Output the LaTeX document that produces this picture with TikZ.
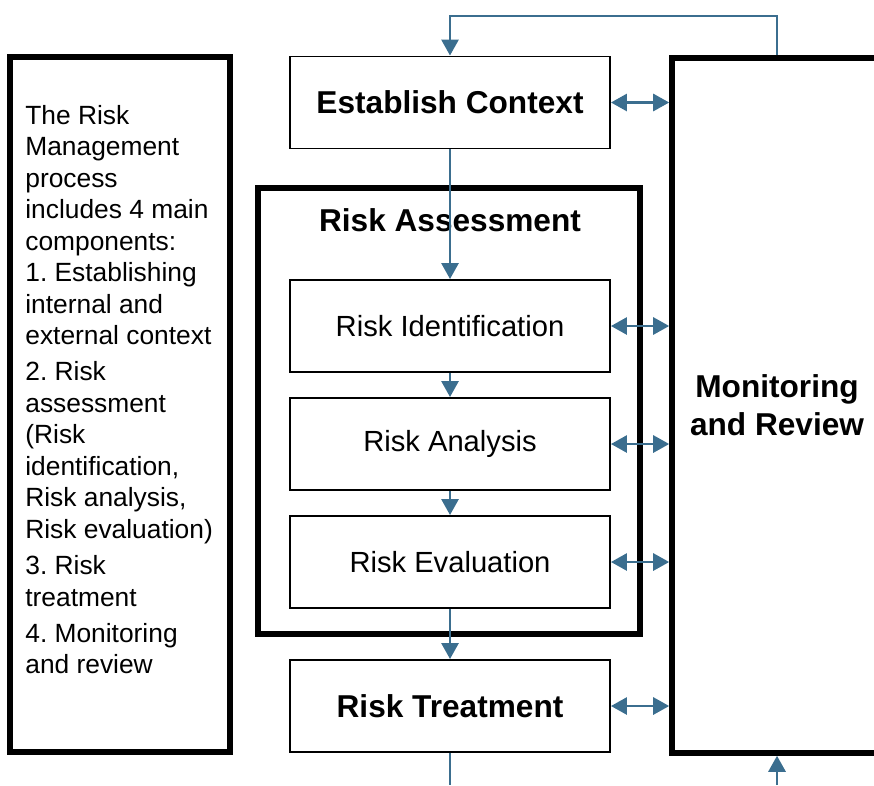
\documentclass[tikz,border=0pt]{standalone}
\usepackage{fontspec}
\setmainfont{Liberation Sans}
\usetikzlibrary{arrows.meta, positioning}

\definecolor{flowblue}{RGB}{59,110,143}

\tikzset{
	stage/.style = {draw, line width = 1.1pt, fill = white, inner sep = 0pt,
		minimum width = 6.4cm, minimum height = 1.84cm,
		font = \fontsize{16.6}{20}\selectfont},
	keystage/.style = {stage, font = \fontsize{18}{21.6}\selectfont\bfseries},
	frame/.style = {draw, line width = 3.2pt, inner sep = 0pt},
	flow/.style = {flowblue, line width = 1.6pt, ->},
	link/.style = {flowblue, line width = 1.6pt, <->},
}

\begin{document}
\frenchspacing
\begin{tikzpicture}[x = 0.02cm, y = -0.02cm, > = {Triangle[length = 0.32cm, width = 0.34cm]}]

	\useasboundingbox (0, 0) rectangle (874, 785);
	\clip (0, 0) rectangle (874, 785);

	% frames
	\node [frame, minimum width = 4.4cm, minimum height = 13.9cm] (notes) at (120, 404.5) {};
	\node [frame, minimum width = 7.64cm, minimum height = 8.92cm] (assess) at (449, 411) {};
	\node [frame, minimum width = 4.2cm, minimum height = 13.9cm, align = center,
		font = \fontsize{18}{21.6}\selectfont\bfseries] (mon) at (777, 405.5) {Monitoring\\and Review};

	\node [anchor = north west, inner sep = 0pt, align = left,
		font = \fontsize{15}{17.9}\selectfont] (summary) at (25, 105)
		{The Risk\\Management\\process\\includes 4 main\\components:\\1. Establishing\\internal and\\external context\\[2.8pt]
		2. Risk\\assessment\\(Risk\\identification,\\Risk analysis,\\Risk evaluation)\\[2.8pt]
		3. Risk\\treatment\\[2.8pt]
		4. Monitoring\\and review};

	\node [font = \fontsize{18}{21.6}\selectfont\bfseries] (title) at (450, 220) {Risk Assessment};

	% process steps
	\node [keystage] (ctx) at (450, 102.5) {Establish Context};
	\node [stage] (ident) at (450, 326) {Risk Identification};
	\node [stage] (anal) at (450, 444) {Risk Analysis};
	\node [stage] (eval) at (450, 562) {Risk Evaluation};
	\node [keystage] (treat) at (450, 706) {Risk Treatment};

	\coordinate (bend) at (450, 16);
	\coordinate (outlet) at (450, 785);
	\coordinate (inlet) at (777, 785);

	% connectors
	\draw [flow] (ctx) -- (ident);
	\draw [flow] (ident) -- (anal);
	\draw [flow] (anal) -- (eval);
	\draw [flow] (eval) -- (treat);
	\draw [flow, -] (treat) -- (outlet);
	\draw [flow] (inlet) -- (mon.south);
	\draw [flow] (mon.north) |- (bend) -- (ctx);

	\foreach \s in {ctx, ident, anal, eval, treat}
		\draw [link] (\s.east) -- (\s.east -| mon.west);

\end{tikzpicture}
\end{document}
